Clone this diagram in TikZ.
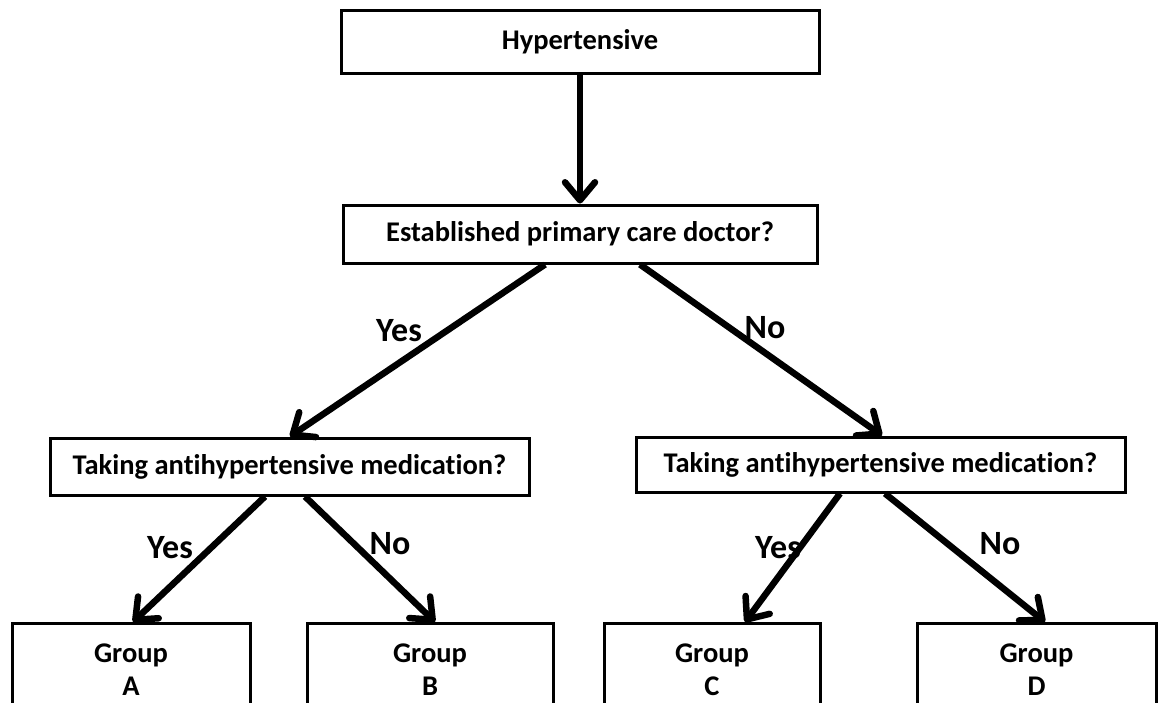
\documentclass[tikz,border=0pt]{standalone}
\usepackage{fontspec}
\setmainfont[Ligatures=NoCommon]{Carlito}
\usetikzlibrary{arrows.meta}
\begin{document}
\begin{tikzpicture}[x=1pt,y=-1pt,
  box/.style={draw,line width=3pt,rectangle,inner sep=0pt,font=\bfseries\fontsize{28.5}{33}\selectfont},
  grp/.style={box,align=center},
  conn/.style={line width=6.5pt,-{Straight Barb[length=18pt,width=30pt,round]}},
  lab/.style={font=\bfseries\fontsize{34}{38}\selectfont}]
\useasboundingbox (0,0) rectangle (1158,702);
\node[box,minimum width=478,minimum height=63] (top) at (580,41.5) {Hypertensive};
\node[box,minimum width=474,minimum height=58] (doc) at (580,234) {Established primary care doctor?};
\node[box,minimum width=479,minimum height=57] (medl) at (289.5,466.5) {Taking antihypertensive medication?};
\node[box,minimum width=489,minimum height=55] (medr) at (880.5,464.5) {Taking antihypertensive medication?};
\node[grp,minimum width=238,minimum height=92,anchor=north] (ga) at (131,622) {Group\\A};
\node[grp,minimum width=246,minimum height=92,anchor=north] (gb) at (430,622) {Group\\B};
\node[grp,minimum width=216,minimum height=92,anchor=north] (gc) at (712,622) {Group\\C};
\node[grp,minimum width=239,minimum height=92,anchor=north] (gd) at (1036.5,622) {Group\\D};
\draw[conn] (top.south) -- (doc.north);
\draw[conn] (doc.south -| 545,0) -- (medl.north -| 290,0);
\draw[conn] (doc.south -| 640,0) -- (medr.north -| 882,0);
\draw[conn] (medl.south -| 265,0) -- (ga.north -| 133,0);
\draw[conn] (medl.south -| 305,0) -- (gb.north -| 435,0);
\draw[conn] (medr.south -| 840,0) -- (gc.north -| 745,0);
\draw[conn] (medr.south -| 885,0) -- (gd.north -| 1045,0);
\node[lab] (y1) at (399,331) {Yes};
\node[lab] (n1) at (765,328) {No};
\node[lab] (y2) at (170,548) {Yes};
\node[lab] (n2) at (390,544) {No};
\node[lab] (y3) at (778,548) {Yes};
\node[lab] (n3) at (1000,544) {No};
\end{tikzpicture}
\end{document}
